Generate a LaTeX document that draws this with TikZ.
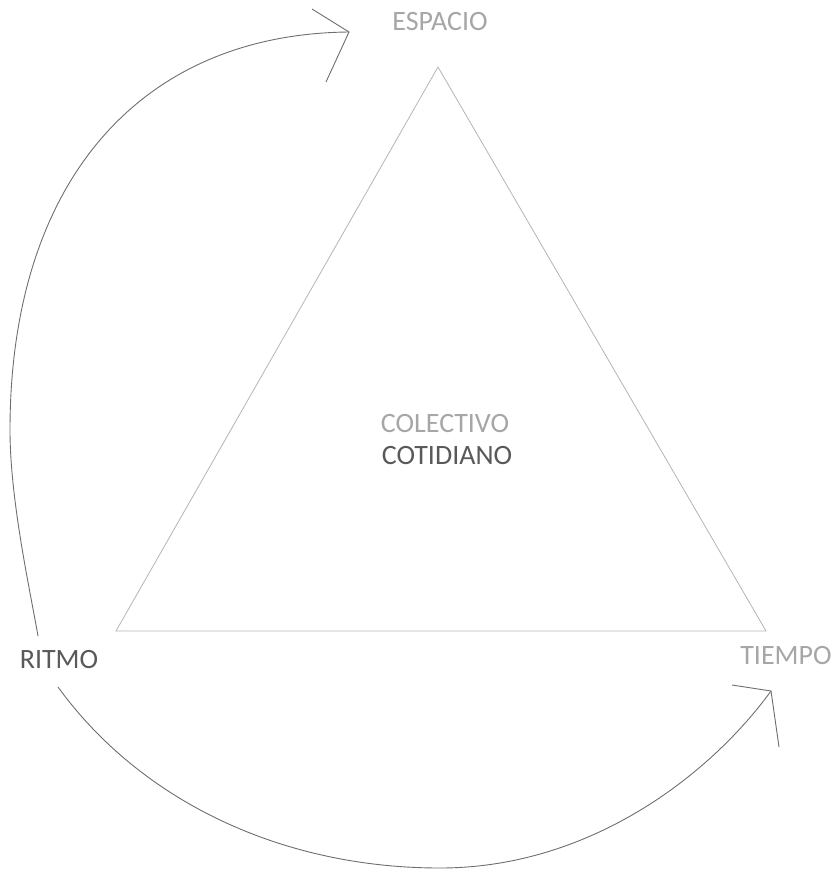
\documentclass[tikz,border=0pt]{standalone}
\usepackage{fontspec}
\setmainfont{Carlito}
\definecolor{lightlbl}{HTML}{A6A6A6}
\definecolor{darklbl}{HTML}{595959}
\definecolor{triline}{HTML}{B4B4B4}
\definecolor{arcline}{HTML}{6E6E6E}
\begin{document}
\begin{tikzpicture}[x=1pt,y=-1pt,
  lbl/.style={inner sep=0pt,font=\fontsize{28}{30}\selectfont},
  light/.style={lbl,text=lightlbl},
  dark/.style={lbl,text=darklbl},
  tri/.style={draw=triline,line width=0.8pt,line join=miter},
  arc/.style={draw=arcline,line width=0.9pt},
  barb/.style={draw=arcline,line width=0.9pt}]
\useasboundingbox (0,0) rectangle (837,869);
% labels
\node[light] (espacio) at (440,22) {ESPACIO};
\node[dark]  (ritmo)   at (59,660) {RITMO};
\node[light] (tiempo)  at (786,656) {TIEMPO};
\node[light] (colectivo) at (445,424) {COLECTIVO};
\node[dark]  (cotidiano) at (447,456) {COTIDIANO};
% triangle
\coordinate (apex) at (438,67);
\coordinate (bl) at (116,631);
\coordinate (br) at (766,631);
\draw[tri] (apex) -- (bl) -- (br) -- cycle;
% top arc: RITMO -> ESPACIO
\coordinate (r1) at (38,636);
\coordinate (m1) at (10,430);
\coordinate (t1) at (349,32);
\draw[arc] (r1) .. controls (30,590) and (10,500) .. (m1)
  .. controls (10,183) and (139,34) .. (t1);
\coordinate (b1a) at (312,9);
\coordinate (b1b) at (326,82);
\draw[barb] (b1a) -- (t1) -- (b1b);
% bottom arc: RITMO -> TIEMPO
\coordinate (r2) at (58,687);
\coordinate (m2) at (440,868);
\coordinate (t2) at (771,691);
\draw[arc] (r2) .. controls (140,800) and (280,868) .. (m2)
  .. controls (590,868) and (710,775) .. (t2);
\coordinate (b2a) at (732,685);
\coordinate (b2b) at (779,747);
\draw[barb] (b2a) -- (t2) -- (b2b);
\end{tikzpicture}
\end{document}
